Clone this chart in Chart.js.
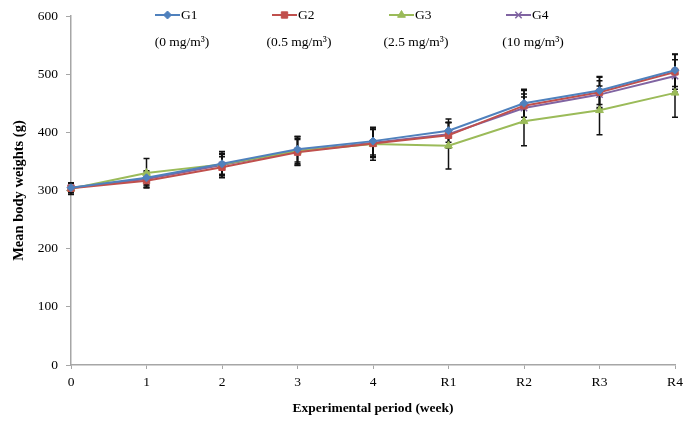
<!DOCTYPE html>
<html>
<head>
<meta charset="utf-8">
<script src="https://cdn.jsdelivr.net/npm/chart.js@4"></script>
<style>
  html, body { margin: 0; padding: 0; background: #fff; }
  #wrap { width: 692px; height: 421px; }
</style>
</head>
<body>
<div id="wrap"><canvas id="bodyWeightChart"></canvas></div>
<script>
// Data
const periods = ['0', '1', '2', '3', '4', 'R1', 'R2', 'R3', 'R4'];
const g1 = [305, 322, 346, 371, 385, 403, 450, 472, 507];
const g2 = [304, 317, 340, 366, 381, 395, 446, 469, 504];
const g3 = [303, 330, 345, 368, 380, 377, 419, 438, 468];
const g4 = [305, 320, 344, 368, 382, 397, 442, 465, 497];
const g1Err = [8, 12, 18, 22, 24, 20, 24, 24, 28];
const g2Err = [8, 12, 18, 22, 24, 22, 26, 26, 30];
const g3Err = [10, 25, 22, 25, 28, 40, 42, 42, 42];
const g4Err = [8, 12, 18, 22, 24, 20, 24, 24, 28];
const groupNames = ['G1', 'G2', 'G3', 'G4'];
const doses = ['(0 mg/m³)', '(0.5 mg/m³)', '(2.5 mg/m³)', '(10 mg/m³)'];
const yTicks = [0, 100, 200, 300, 400, 500, 600];

const serif = "'Liberation Serif', 'Times New Roman', serif";
const axisGray = '#a6a6a6';

function series(label, data, err, color, style, radius) {
    return {
        label: label,
        data: data,
        errors: err,
        borderColor: color,
        backgroundColor: color,
        pointStyle: style,
        pointRadius: radius,
        pointBorderColor: color,
        pointBackgroundColor: color,
        pointBorderWidth: style === 'crossRot' ? 1.5 : 1,
        borderWidth: 2,
        tension: 0,
        fill: false
    };
}

// Error bars drawn from the errors arrays through the y scale
const errorBars = {
    id: 'errorBars',
    beforeDatasetsDraw(chart) {
        const ctx = chart.ctx;
        const y = chart.scales.y;
        ctx.save();
        ctx.strokeStyle = '#111';
        ctx.lineWidth = 1.5;
        chart.data.datasets.forEach((ds, i) => {
            const meta = chart.getDatasetMeta(i);
            meta.data.forEach((pt, j) => {
                const v = ds.data[j], e = ds.errors[j];
                const top = y.getPixelForValue(v + e);
                const bot = y.getPixelForValue(v - e);
                ctx.beginPath();
                ctx.moveTo(pt.x, top); ctx.lineTo(pt.x, bot);
                ctx.moveTo(pt.x - 3, top); ctx.lineTo(pt.x + 3, top);
                ctx.moveTo(pt.x - 3, bot); ctx.lineTo(pt.x + 3, bot);
                ctx.stroke();
            });
        });
        ctx.restore();
    }
};

// Two-line legend across the top of the plot
const topLegend = {
    id: 'topLegend',
    afterDraw(chart) {
        const ctx = chart.ctx;
        ctx.save();
        ctx.font = '13.5px ' + serif;
        ctx.textBaseline = 'middle';
        chart.data.datasets.forEach((ds, i) => {
            const x0 = 155 + i * 117;
            const yy = 15;
            ctx.strokeStyle = ds.borderColor;
            ctx.fillStyle = ds.borderColor;
            ctx.lineWidth = 2;
            ctx.beginPath();
            ctx.moveTo(x0, yy); ctx.lineTo(x0 + 25, yy);
            ctx.stroke();
            ctx.lineWidth = ds.pointBorderWidth;
            Chart.helpers.drawPoint(ctx, {
                pointStyle: ds.pointStyle,
                radius: ds.pointRadius,
                borderWidth: ds.pointBorderWidth
            }, x0 + 12.5, yy);
            ctx.fillStyle = '#000';
            ctx.textAlign = 'left';
            ctx.fillText(groupNames[i], x0 + 26, yy);
            ctx.textAlign = 'center';
            ctx.fillText(doses[i], x0 + 27, 42);
        });
        ctx.restore();
    }
};

new Chart(document.getElementById('bodyWeightChart').getContext('2d'), {
    type: 'line',
    data: {
        labels: periods,
        datasets: [
            series('G1', g1, g1Err, '#4f81bd', 'rectRot', 4),
            series('G2', g2, g2Err, '#c0504d', 'rect', 4.5),
            series('G3', g3, g3Err, '#9bbb59', 'triangle', 4.5),
            series('G4', g4, g4Err, '#8064a2', 'crossRot', 4.5)
        ]
    },
    options: {
        responsive: true,
        maintainAspectRatio: false,
        animation: false,
        layout: { padding: { left: 0, top: 15, right: 17, bottom: 0 } },
        plugins: {
            legend: { display: false },
            tooltip: { enabled: false }
        },
        scales: {
            x: {
                offset: false,
                afterFit(scale) { scale.height = 56; },
                grid: { drawOnChartArea: false, drawTicks: true, tickLength: 4, color: axisGray },
                border: { display: true, color: axisGray, width: 1.5 },
                ticks: { color: '#000', font: { family: serif, size: 13.5 }, padding: 5, maxRotation: 0 },
                title: {
                    display: true,
                    text: 'Experimental period (week)',
                    color: '#000',
                    font: { family: serif, size: 13.5, weight: 'bold' },
                    padding: { top: 4, bottom: 4 }
                }
            },
            y: {
                min: 0,
                max: 600,
                afterFit(scale) { scale.width = 71; },
                afterBuildTicks(scale) { scale.ticks = yTicks.map(v => ({ value: v })); },
                grid: { drawOnChartArea: false, drawTicks: true, tickLength: 5, color: axisGray },
                border: { display: true, color: axisGray, width: 1.5 },
                ticks: { color: '#000', font: { family: serif, size: 13.5 }, padding: 8 },
                title: {
                    display: true,
                    text: 'Mean body weights (g)',
                    color: '#000',
                    font: { family: serif, size: 14.5, weight: 'bold' },
                    padding: { top: 11, bottom: 0 }
                }
            }
        }
    },
    plugins: [errorBars, topLegend]
});
</script>
</body>
</html>
